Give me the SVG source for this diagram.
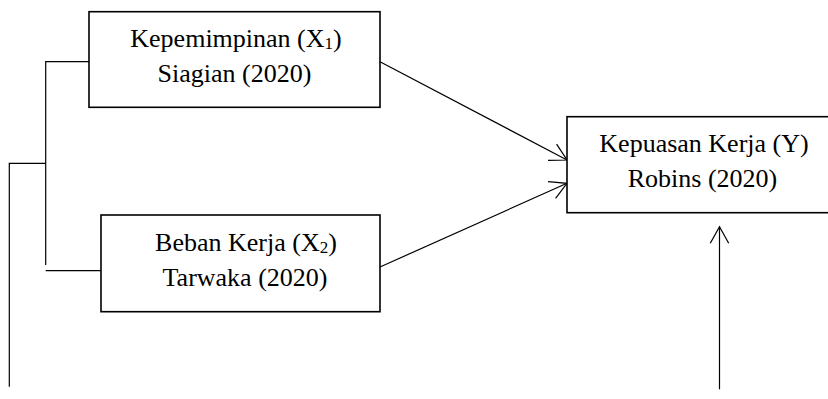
<svg xmlns="http://www.w3.org/2000/svg" width="828" height="399" viewBox="0 0 828 399">
<style>
.box{fill:#fff;stroke:#000;stroke-width:1.6}
.t{font-family:"Liberation Serif","Times New Roman",serif;font-size:26px;fill:#000;text-anchor:middle}
.sub{font-size:17px}
.ln{fill:none;stroke:#000;stroke-width:1.2}
</style>
<defs>
<marker id="arr" markerUnits="userSpaceOnUse" markerWidth="40" markerHeight="40" viewBox="-20 -20 40 40" refX="0" refY="0" orient="auto">
<path d="M -16.6 -9.2 L 0 0 L -16.6 9.2" fill="none" stroke="#000" stroke-width="1.2"/>
</marker>
</defs>
<g id="connectors">
<path class="ln" d="M 89 61.7 H 45.7 V 265"/>
<path class="ln" d="M 45.7 270.7 H 101"/>
<path class="ln" d="M 45.7 163.3 H 9.3 V 386.7"/>
<line class="ln" x1="380" y1="61.7" x2="567" y2="160" marker-end="url(#arr)"/>
<line class="ln" x1="380" y1="267" x2="567" y2="183.3" marker-end="url(#arr)"/>
<line class="ln" x1="719.5" y1="389.3" x2="719.5" y2="226.7" marker-end="url(#arr)"/>
</g>
<g id="node-x1">
<rect class="box" x="89" y="11.7" width="291" height="95.6"/>
<text class="t" x="236" y="47">Kepemimpinan (X<tspan class="sub" dy="2">1</tspan><tspan dy="-2">)</tspan></text>
<text class="t" x="234.5" y="82">Siagian (2020)</text>
</g>
<g id="node-x2">
<rect class="box" x="101" y="215" width="279" height="96.7"/>
<text class="t" x="246" y="250.5">Beban Kerja (X<tspan class="sub" dy="2">2</tspan><tspan dy="-2">)</tspan></text>
<text class="t" x="245" y="285.5">Tarwaka (2020)</text>
</g>
<g id="node-y">
<rect class="box" x="567" y="116.7" width="262" height="96"/>
<text class="t" x="704" y="152">Kepuasan Kerja (Y)</text>
<text class="t" x="702.5" y="187">Robins (2020)</text>
</g>
</svg>
